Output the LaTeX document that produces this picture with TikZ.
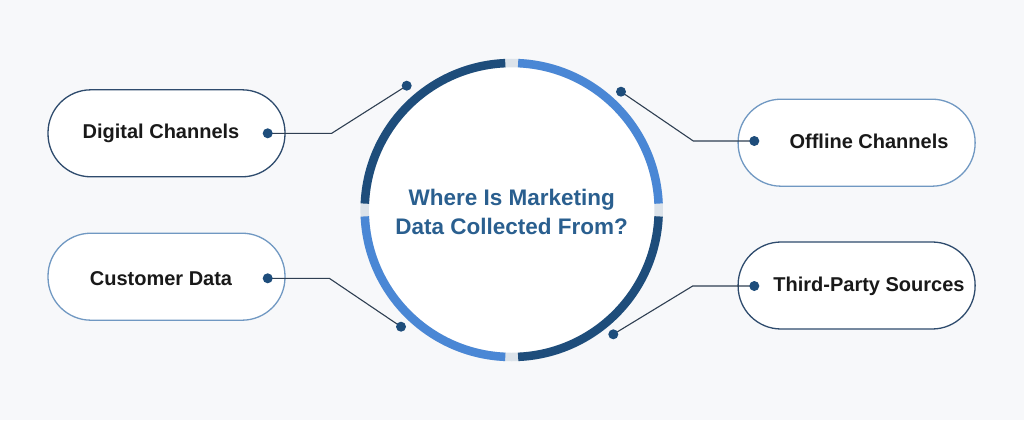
\documentclass[tikz,border=0pt]{standalone}
\usepackage{fontspec}
\setmainfont{Liberation Sans}
\usetikzlibrary{calc}
\definecolor{bg}{HTML}{F7F8FA}
\definecolor{ringdark}{HTML}{1E4D7B}
\definecolor{ringlight}{HTML}{4A87D5}
\definecolor{gapc}{HTML}{DCE3EA}
\definecolor{titlec}{HTML}{2A5F8F}
\definecolor{linec}{HTML}{2F3F52}
\definecolor{pilldark}{HTML}{2E4B6D}
\definecolor{pilllight}{HTML}{7098C2}
\begin{document}
\begin{tikzpicture}[x=1pt,y=-1pt,
  pill/.style={line width=1.3pt, fill=white, rounded corners=43pt, minimum width=237pt, minimum height=87pt, inner sep=0pt},
  lbl/.style={font=\bfseries\fontsize{20}{24}\selectfont, text=black!90, inner sep=0pt},
  dotc/.style={circle, fill=ringdark, inner sep=0pt, minimum size=10pt},
  conn/.style={draw=linec, line width=1.1pt},
  ringseg/.style={line width=8.5pt},
]
\fill[bg] (0,0) rectangle (1024,420);
\useasboundingbox (0,0) rectangle (1024,420);

% centre circle
\coordinate (c) at (511.7,210);
\fill[white] (c) circle[radius=147];
\draw[gapc, ringseg] (c) circle[radius=147];
\draw[ringdark, ringseg]  ($(c)+(2.5:147)$)   arc[start angle=2.5,   end angle=87.5,  radius=147];
\draw[ringlight, ringseg] ($(c)+(92.5:147)$)  arc[start angle=92.5,  end angle=177.5, radius=147];
\draw[ringdark, ringseg]  ($(c)+(182.5:147)$) arc[start angle=182.5, end angle=267.5, radius=147];
\draw[ringlight, ringseg] ($(c)+(272.5:147)$) arc[start angle=272.5, end angle=357.5, radius=147];
\node[align=center, text=titlec, font=\bfseries\fontsize{22.5}{28.5}\selectfont] (title) at (511.7,212) {Where Is Marketing\\Data Collected From?};

% pills
\node[pill, draw=pilldark]  (p1) at (166.5,133.3) {};
\node[pill, draw=pilllight] (p2) at (166.5,276.7) {};
\node[pill, draw=pilllight] (p3) at (856.6,142.7) {};
\node[pill, draw=pilldark]  (p4) at (856.6,285.5) {};
\node[lbl] (t1) at (161,133.3) {Digital Channels};
\node[lbl] (t2) at (161,278.3) {Customer Data};
\node[lbl] (t3) at (869,141) {Offline Channels};
\node[lbl] (t4) at (869,286) {Third-Party Sources};

% dot positions
\coordinate (a1) at (267.7,133.3);
\coordinate (a2) at (267.7,278.3);
\coordinate (a3) at (754.3,141);
\coordinate (a4) at (754.3,286);
\coordinate (r1) at (406.7,85.7);
\coordinate (r2) at (401,326.7);
\coordinate (r3) at (621,91.7);
\coordinate (r4) at (613.3,334.3);
\coordinate (b1) at (331.7,133.3);
\coordinate (b2) at (329.3,278.3);
\coordinate (b3) at (693.3,141);
\coordinate (b4) at (692.7,286);

\draw[conn] (a1) -- (b1) -- (r1);
\draw[conn] (a2) -- (b2) -- (r2);
\draw[conn] (a3) -- (b3) -- (r3);
\draw[conn] (a4) -- (b4) -- (r4);

\foreach \p in {a1,a2,a3,a4,r1,r2,r3,r4}
  \node[dotc] (dot-\p) at (\p) {};
\end{tikzpicture}
\end{document}
